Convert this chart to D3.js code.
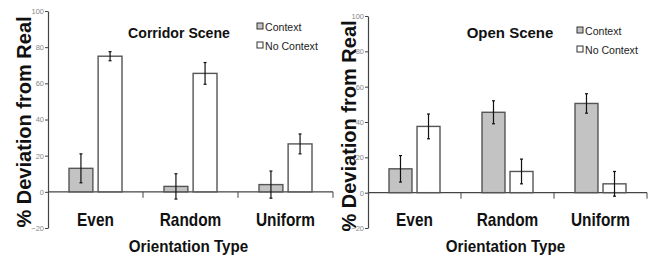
<!DOCTYPE html>
<html>
<head>
<meta charset="utf-8">
<script src="https://cdn.jsdelivr.net/npm/d3@7"></script>
<style>
  body { margin: 0; background: #fff; }
  svg text { font-family: "Liberation Sans", Arial, sans-serif; }
</style>
</head>
<body>
<div id="chart"></div>
<script>
const categories = ["Even", "Random", "Uniform"]
const series = ["Context", "No Context"]
const yTicks = [-20, 0, 20, 40, 60, 80, 100]

// Corridor scene
const corridorContext = [13, 3, 4]
const corridorContextErr = [8, 7, 7.5]
const corridorNoContext = [75, 65.5, 26.5]
const corridorNoContextErr = [2.5, 6, 5.5]

// Open scene
const openContext = [13.5, 45.5, 50.5]
const openContextErr = [7.5, 6.5, 5.5]
const openNoContext = [37.5, 12, 5]
const openNoContextErr = [7, 7, 7]

const FILLS = { "Context": "#c3c3c3", "No Context": "#ffffff" }

const svg = d3.select("#chart")
  .append("svg")
  .attr("width", 648)
  .attr("height", 258)

const drawPanel = (p) => {
  const rows = categories.map((c, i) => ({
    cat: c,
    vals: [
      { s: "Context", v: p.ctx[i], e: p.ctxErr[i] },
      { s: "No Context", v: p.noCtx[i], e: p.noCtxErr[i] }
    ]
  }))

  const x0 = d3.scaleBand()
    .domain(categories)
    .range([p.left, p.right])

  const x1 = d3.scaleBand()
    .domain(series)
    .range([21, x0.bandwidth() - 21])
    .paddingInner(0.18)

  const y = d3.scaleLinear()
    .domain([-20, 100])
    .range([p.bottom, p.top])

  const g = svg.append("g")

  // Y label (drawn first so tick labels sit on top)
  g.append("text")
    .attr("transform", `translate(${p.yLabelX}, ${p.yLabelY}) rotate(-90)`)
    .attr("text-anchor", "middle")
    .attr("font-size", "20px")
    .attr("font-weight", "bold")
    .attr("fill", "#111")
    .text("% Deviation from Real")

  // y axis
  const yAxis = g.append("g")
    .attr("transform", `translate(${p.left}, 0)`)
    .call(d3.axisLeft(y).tickValues(yTicks).tickSize(3).tickSizeOuter(0).tickPadding(1))
  yAxis.select(".domain").attr("stroke", "#444").attr("stroke-width", 1.2)
  yAxis.selectAll(".tick line").attr("stroke", "#444")
  yAxis.selectAll(".tick text")
    .attr("font-size", "7.5px")
    .attr("fill", "#888")

  // x axis on zero line
  g.append("line")
    .attr("x1", p.left).attr("x2", p.right)
    .attr("y1", y(0)).attr("y2", y(0))
    .attr("stroke", "#444").attr("stroke-width", 1.2)

  // separator ticks between groups
  g.selectAll(".sep")
    .data(categories.slice(1).concat(["end"]))
    .enter().append("line")
    .attr("x1", d => d === "end" ? p.right : x0(d))
    .attr("x2", d => d === "end" ? p.right : x0(d))
    .attr("y1", y(0))
    .attr("y2", y(0) + 6)
    .attr("stroke", "#444")

  const groups = g.selectAll(".grp")
    .data(rows)
    .enter().append("g")
    .attr("transform", d => `translate(${x0(d.cat)}, 0)`)

  groups.selectAll("rect")
    .data(d => d.vals)
    .enter().append("rect")
    .attr("x", d => x1(d.s))
    .attr("y", d => y(Math.max(0, d.v)))
    .attr("width", x1.bandwidth())
    .attr("height", d => Math.abs(y(d.v) - y(0)))
    .attr("fill", d => FILLS[d.s])
    .attr("stroke", "#555")
    .attr("stroke-width", 1.4)

  // error bars
  const err = groups.selectAll(".err")
    .data(d => d.vals)
    .enter().append("g")
    .attr("transform", d => `translate(${x1(d.s) + x1.bandwidth() / 2}, 0)`)
  err.append("line")
    .attr("y1", d => y(d.v + d.e))
    .attr("y2", d => y(d.v - d.e))
    .attr("stroke", "#111").attr("stroke-width", 1.2)
  err.append("line")
    .attr("x1", -1.5).attr("x2", 1.5)
    .attr("y1", d => y(d.v + d.e)).attr("y2", d => y(d.v + d.e))
    .attr("stroke", "#111").attr("stroke-width", 1.2)
  err.append("line")
    .attr("x1", -1.5).attr("x2", 1.5)
    .attr("y1", d => y(d.v - d.e)).attr("y2", d => y(d.v - d.e))
    .attr("stroke", "#111").attr("stroke-width", 1.2)

  // category labels
  g.selectAll(".cat")
    .data(categories)
    .enter().append("text")
    .attr("transform", d => `translate(${x0(d) + x0.bandwidth() / 2}, 226) scale(0.88, 1)`)
    .attr("text-anchor", "middle")
    .attr("font-size", "17.5px")
    .attr("font-weight", "bold")
    .attr("fill", "#111")
    .text(d => d)

  // X label
  g.append("text")
    .attr("transform", `translate(${(p.left + p.right) / 2 - 2}, 252) scale(0.92, 1)`)
    .attr("text-anchor", "middle")
    .attr("font-size", "16.5px")
    .attr("font-weight", "bold")
    .attr("fill", "#111")
    .text("Orientation Type")

  // title
  g.append("text")
    .attr("transform", `translate(${p.titleX}, 38) scale(${p.titleScale}, 1)`)
    .attr("text-anchor", "middle")
    .attr("font-size", "15px")
    .attr("font-weight", "bold")
    .attr("fill", "#111")
    .text(p.title)

  // legend
  const leg = g.selectAll(".leg")
    .data(series)
    .enter().append("g")
    .attr("transform", (d, i) => `translate(${p.legX}, ${p.legY + i * 19})`)
  leg.append("rect")
    .attr("width", 6).attr("height", 6)
    .attr("fill", d => FILLS[d])
    .attr("stroke", "#333")
    .attr("stroke-width", 1)
  leg.append("text")
    .attr("transform", "translate(8, 7.5) scale(0.92, 1)")
    .attr("font-size", "11.5px")
    .attr("fill", "#222")
    .text(d => d)
}

drawPanel({
  left: 48, right: 333, top: 11, bottom: 228,
  ctx: corridorContext, ctxErr: corridorContextErr,
  noCtx: corridorNoContext, noCtxErr: corridorNoContextErr,
  title: "Corridor Scene", titleX: 179, titleScale: 0.94,
  legX: 257, legY: 23,
  yLabelX: 31, yLabelY: 122
})

drawPanel({
  left: 368, right: 647, top: 16, bottom: 228,
  ctx: openContext, ctxErr: openContextErr,
  noCtx: openNoContext, noCtxErr: openNoContextErr,
  title: "Open Scene", titleX: 510, titleScale: 1,
  legX: 577, legY: 27,
  yLabelX: 356, yLabelY: 126
})
</script>
</body>
</html>
